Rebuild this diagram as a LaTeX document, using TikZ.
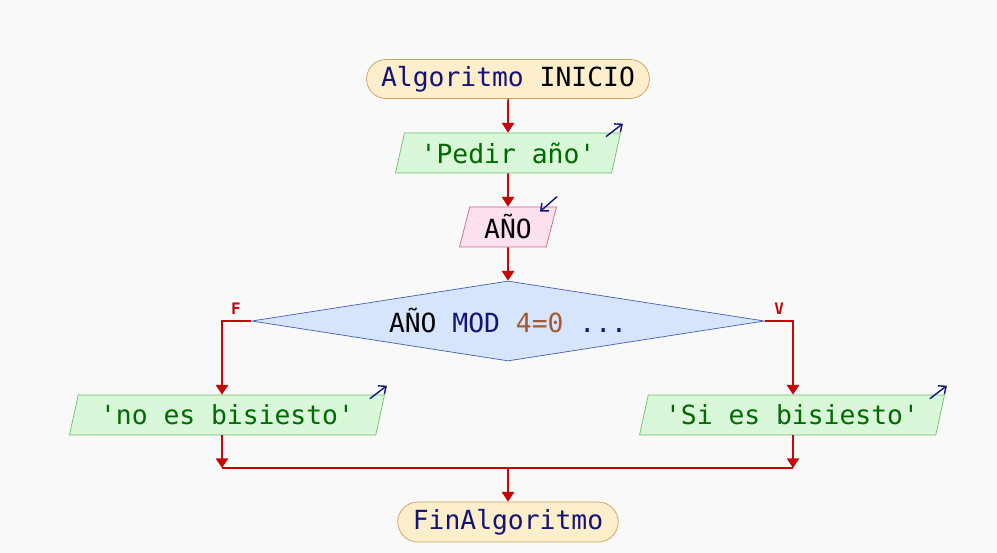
\documentclass[tikz,border=0pt]{standalone}
\usepackage{fontspec}
\setmonofont{DejaVu Sans Mono}
\usetikzlibrary{arrows.meta, positioning, shapes.geometric, shapes.misc, calc}

\definecolor{bgcol}{RGB}{249,249,249}
\definecolor{flowred}{RGB}{196,8,8}
\definecolor{kwblue}{RGB}{20,20,120}
\definecolor{strgreen}{RGB}{0,105,0}
\definecolor{numbrown}{RGB}{165,90,45}
\definecolor{termfill}{RGB}{254,238,204}
\definecolor{termline}{RGB}{205,160,90}
\definecolor{iofill}{RGB}{217,247,217}
\definecolor{ioline}{RGB}{110,190,110}
\definecolor{infill}{RGB}{252,224,238}
\definecolor{inline}{RGB}{200,100,150}
\definecolor{condfill}{RGB}{214,228,252}
\definecolor{condline}{RGB}{70,95,175}

\begin{document}
\begin{tikzpicture}[x=0.02cm, y=-0.02cm, >={Triangle[width=7pt,length=5.5pt]},
    font=\ttfamily\fontsize{15}{16}\selectfont,
    terminal/.style={draw=termline, fill=termfill, rounded rectangle, minimum height=0.78cm, inner sep=2pt},
    iobox/.style={draw=ioline, fill=iofill, trapezium, trapezium left angle=70, trapezium right angle=110,
        trapezium stretches body, minimum height=0.8cm, inner sep=1pt, text=strgreen},
    inbox/.style={iobox, draw=inline, fill=infill, text=black},
    flow/.style={draw=flowred, line width=0.9pt},
    icon/.style={draw=kwblue, line width=0.8pt, -{Straight Barb[length=3.5pt,width=6pt]}},
    branch/.style={text=flowred, font=\ttfamily\bfseries\fontsize{9}{10}\selectfont}]

    % background
    \fill[bgcol] (0,0) rectangle (997,553);
    \useasboundingbox (0,0) rectangle (997,553);

    % Nodes
    \node[terminal, minimum width=5.8cm] (inicio) at (508,79) {\textcolor{kwblue}{Algoritmo} INICIO};
    \node[iobox, minimum width=4.5cm] (pedir) at (508,153) {'Pedir año'};
    \node[inbox, minimum width=1.94cm] (anio) at (508,227) {AÑO};
    \node[draw=condline, fill=condfill, diamond, aspect=6.4, inner sep=0pt,
        minimum width=10.26cm, minimum height=1.6cm] (cond) at (508,321)
        {AÑO \textcolor{kwblue}{MOD} \textcolor{numbrown}{4=0} \textcolor{kwblue}{...}};
    \node[iobox, minimum width=6.3cm] (noes) at (227,415) {'no es bisiesto'};
    \node[iobox, minimum width=6.1cm] (sies) at (792,415) {'Si es bisiesto'};
    \node[terminal, minimum width=4.55cm, minimum height=0.8cm] (fin) at (508,522) {\textcolor{kwblue}{FinAlgoritmo}};

    \node[branch] (falso) at (236,309) {F};
    \node[branch] (verdad) at (779,309) {V};

    \coordinate (cF) at (222,321);
    \coordinate (cV) at (793,321);
    \coordinate (jL) at (222,468);
    \coordinate (jR) at (793,468);
    \coordinate (jM) at (508,468);

    % io icons
    \draw[icon] ($(pedir.top right corner)+(-15,4)$) -- ++(17,-13);
    \draw[icon] ($(noes.top right corner)+(-15,4)$) -- ++(17,-13);
    \draw[icon] ($(sies.top right corner)+(-15,4)$) -- ++(17,-13);
    \draw[icon] ($(anio.top right corner)+(0,-10)$) -- ++(-17,15);

    % Arrows
    \draw[flow, ->] (inicio) -- (pedir);
    \draw[flow, ->] (pedir) -- (anio);
    \draw[flow, ->] (anio) -- (cond);
    \draw[flow, ->] (cond.west) -- (cF) -- (cF |- noes.north);
    \draw[flow, ->] (cond.east) -- (cV) -- (cV |- sies.north);
    \draw[flow, ->] (jL |- noes.south) -- (jL);
    \draw[flow, ->] (jR |- sies.south) -- (jR);
    \draw[flow] (jL) -- (jR);
    \draw[flow, ->] (jM) -- (fin);

\end{tikzpicture}
\end{document}
